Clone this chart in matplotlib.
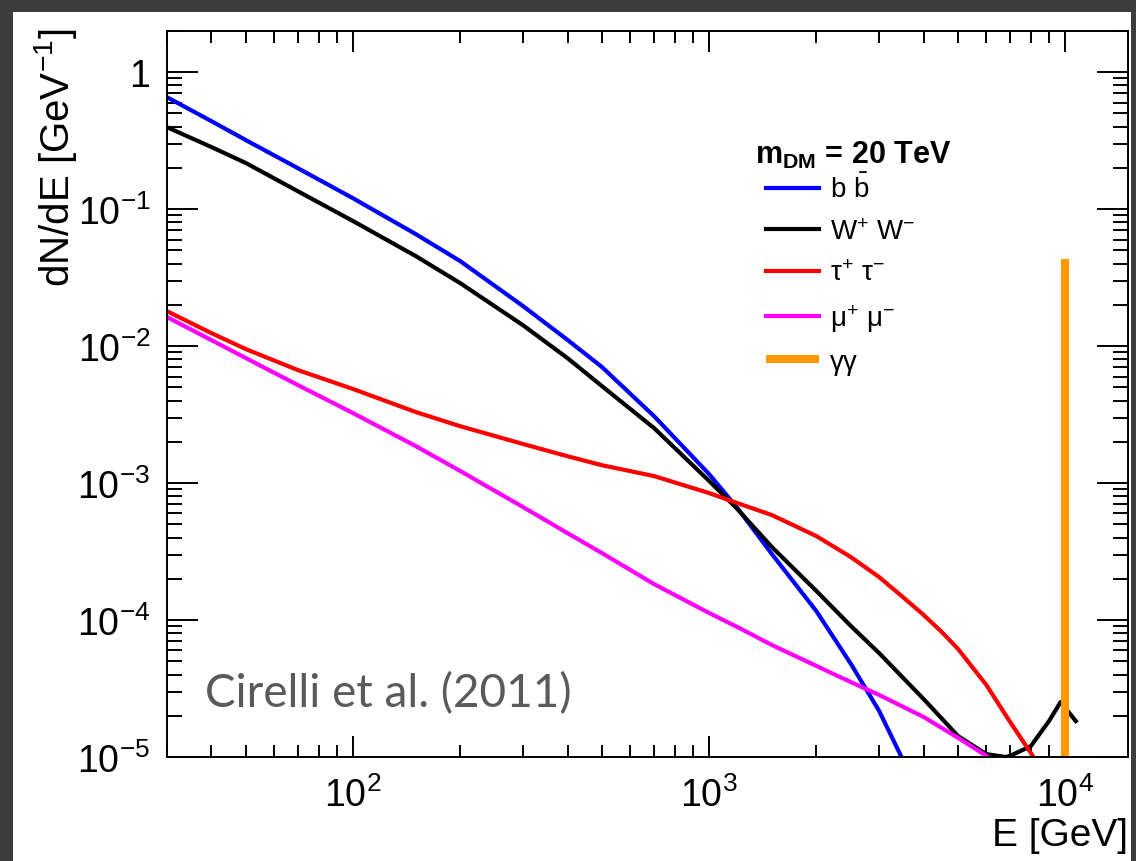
import matplotlib
matplotlib.use("Agg")
import matplotlib.pyplot as plt
from matplotlib.ticker import LogLocator, NullFormatter
from matplotlib.patches import Rectangle

plt.rcParams['font.family'] = ['Liberation Sans', 'DejaVu Sans']
plt.rcParams['mathtext.fontset'] = 'custom'
plt.rcParams['mathtext.rm'] = 'Liberation Sans'
plt.rcParams['mathtext.it'] = 'Liberation Sans:italic'
plt.rcParams['mathtext.bf'] = 'Liberation Sans:bold'

# spectra (E in GeV, dN/dE in 1/GeV)
e_bb = [30, 40, 50, 70, 100, 150, 200, 300, 400, 500, 700, 1000, 1200, 1500,
        2000, 2500, 3000, 3500]
dnde_bb = [0.657, 0.439, 0.319, 0.199, 0.120, 0.0657, 0.0417, 0.0196, 0.0111,
           0.00703, 0.00308, 1.16e-3, 6.57e-4, 3.03e-4, 1.16e-4, 4.78e-5,
           2.17e-5, 9.5e-6]

e_ww = [30, 40, 50, 70, 100, 150, 200, 300, 400, 500, 700, 1000, 1200, 1500,
        2000, 2500, 3000, 4000, 5000, 6000, 6800, 7000, 8000, 9000, 9700, 10700]
dnde_ww = [0.397, 0.284, 0.217, 0.135, 0.0818, 0.0454, 0.0288, 0.0142, 0.00817,
           0.0051, 0.00252, 1.035e-3, 6.46e-4, 3.41e-4, 1.63e-4, 9.04e-5,
           5.74e-5, 2.65e-5, 1.42e-5, 1.05e-5, 1.0e-5, 1.02e-5, 1.2e-5,
           1.83e-5, 2.52e-5, 1.83e-5]

e_tt = [30, 40, 50, 70, 100, 150, 200, 300, 400, 500, 700, 1000, 1200, 1500,
        2000, 2500, 3000, 3500, 4000, 4500, 5000, 6000, 7000, 8100, 8300]
dnde_tt = [0.0180, 0.01244, 0.0095, 0.00668, 0.00486, 0.0033, 0.0026, 0.00193,
           0.00157, 0.00135, 1.125e-3, 8.45e-4, 7.14e-4, 5.84e-4, 4.10e-4,
           2.88e-4, 2.06e-4, 1.47e-4, 1.09e-4, 8.17e-5, 6.14e-5, 3.36e-5,
           1.80e-5, 1.02e-5, 8.5e-6]

e_mm = [30, 40, 50, 70, 100, 150, 200, 300, 400, 500, 700, 1000, 1200, 1500,
        2000, 2500, 3000, 4000, 5000, 6000, 6400]
dnde_mm = [0.0163, 0.01106, 0.00817, 0.00519, 0.00324, 0.00186, 1.224e-3,
           6.68e-4, 4.31e-4, 3.08e-4, 1.83e-4, 1.125e-4, 8.89e-5, 6.57e-5,
           4.62e-5, 3.52e-5, 2.84e-5, 1.96e-5, 1.38e-5, 1.02e-5, 9.0e-6]

gamma_e = 1.0e4
gamma_top = 0.043

x_range = (30, 1.5e4)
y_range = (1e-5, 2.0)
y_ticks = [1e-5, 1e-4, 1e-3, 1e-2, 1e-1, 1]
y_labels = [r'$10^{-5}$', r'$10^{-4}$', r'$10^{-3}$', r'$10^{-2}$', r'$10^{-1}$', '1']
x_ticks = [1e2, 1e3, 1e4]
x_labels = [r'$10^{2}$', r'$10^{3}$', r'$10^{4}$']

fig = plt.figure(figsize=(11.36, 8.62), dpi=100)
fig.patch.set_facecolor('#3c3c3c')
fig.patches.append(Rectangle((13 / 1136, 0), 1118 / 1136, 849 / 862,
                             transform=fig.transFigure, facecolor='white',
                             edgecolor='none', zorder=-10))

ax = fig.add_axes([167 / 1136, 104 / 862, 961 / 1136, 726 / 862])
ax.set_zorder(1)
ax.set_xscale('log')
ax.set_yscale('log')

ax.plot(e_bb, dnde_bb, color='#0000ff', lw=3, label=r'b $\bar{\mathrm{b}}$')
ax.plot(e_ww, dnde_ww, color='black', lw=3, label=r'W$^{+}$ W$^{-}$')
ax.plot(e_tt, dnde_tt, color='#ff0000', lw=3, label=r'τ$^{+}$ τ$^{-}$')
ax.plot(e_mm, dnde_mm, color='#ff00ff', lw=3, label=r'μ$^{+}$ μ$^{-}$')
ax.vlines(gamma_e, y_range[0] * 0.1, gamma_top, color='#ff9900', lw=5.8,
          label='γγ')

ax.set_xlim(*x_range)
ax.set_ylim(*y_range)

ax.set_yticks(y_ticks)
ax.set_yticklabels(y_labels)
ax.set_xticks(x_ticks)
ax.set_xticklabels(x_labels)
ax.xaxis.set_minor_locator(LogLocator(base=10, subs=range(2, 10), numticks=20))
ax.yaxis.set_minor_locator(LogLocator(base=10, subs=range(2, 10), numticks=20))
ax.xaxis.set_minor_formatter(NullFormatter())
ax.yaxis.set_minor_formatter(NullFormatter())

ax.tick_params(which='both', direction='in', top=True, right=True,
               labelsize=27, width=1.4)
ax.tick_params(axis='y', which='major', length=22, pad=12)
ax.tick_params(axis='y', which='minor', length=11)
ax.tick_params(axis='x', which='major', length=15, pad=14)
ax.tick_params(axis='x', which='minor', length=8.5)
for sp in ax.spines.values():
    sp.set_linewidth(1.4)

ax.set_ylabel(r'dN/dE [GeV$^{-1}$]', fontsize=29, loc='top')
ax.yaxis.set_label_coords(-0.092, 1.005)
ax.set_xlabel('E [GeV]', fontsize=28, loc='right')
ax.xaxis.set_label_coords(1.0, -0.082)

leg = ax.legend(loc='upper left', bbox_to_anchor=(766 / 1136, 1 - 175 / 862),
                bbox_transform=fig.transFigure, frameon=False, fontsize=20,
                handlelength=1.9, handletextpad=0.4, labelspacing=0.56,
                borderpad=0, borderaxespad=0)

ax.text(755 / 1136, 1 - 155 / 862, r'$\mathbf{m_{DM}}$ = 20 TeV',
        transform=fig.transFigure, fontsize=22, fontweight='bold',
        va='center', ha='left')
ax.text(205 / 1136, 1 - 694 / 862, 'Cirelli et al. (2011)', fontsize=33,
        transform=fig.transFigure, family=['Lato', 'DejaVu Sans'],
        color='#5a5a5a', va='center', ha='left')

fig.savefig('out.png', dpi=100, facecolor=fig.get_facecolor())
